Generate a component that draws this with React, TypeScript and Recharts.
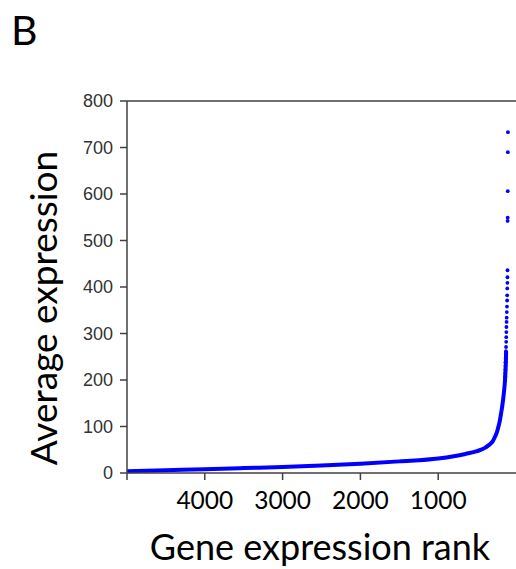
import React from 'react';
import { ComposedChart, Line, Scatter, XAxis, YAxis, ReferenceLine } from 'recharts';

// Tick labels
const rankTicks = [5000, 4000, 3000, 2000, 1000];
const expressionTicks = [0, 100, 200, 300, 400, 500, 600, 700, 800];

// Bulk of the ranked genes (dense, drawn as a thick band)
const bulkRanks = [5000, 4500, 4000, 3500, 3000, 2500, 2000, 1500, 1000, 800, 650, 500, 400, 350, 300, 270, 245, 227, 205, 190, 175, 162, 150, 141, 135, 130, 127];
const bulkValues = [4, 6, 8, 10.5, 13, 16, 20, 25, 31, 36, 41, 47, 54, 60, 68, 78, 88, 99, 115, 130, 146, 163, 182, 200, 220, 240, 262];

// Highest expressed genes (separate dots)
const topRanks = [104, 105, 106, 107, 108, 109, 110, 111, 112, 113, 114, 116, 118, 120, 121, 123, 124, 125, 126, 128, 129, 131, 132, 134, 135, 136, 138, 139, 141];
const topValues = [733, 690, 606, 549, 542, 436, 421, 409, 397, 382, 371, 358, 346, 334, 325, 314, 303, 292, 282, 271, 262, 254, 246, 238, 230, 222, 215, 208, 200];

const bulkData = bulkRanks.map((r, i) => ({ rank: r, value: bulkValues[i] }));
const topData = topRanks.map((r, i) => ({ rank: r, value: topValues[i] }));

const BLUE = '#0000FF';
const AXIS = '#404040';

const Dot = (props: any) => {
  const { cx, cy } = props;
  if (cx == null || cy == null) return null;
  return <circle cx={cx} cy={cy} r={1.9} fill={BLUE} />;
};

export default function App() {
  return (
    <div style={{ position: 'absolute', left: 0, top: 0, width: 516, height: 569, background: '#fff' }}>
      <ComposedChart width={516} height={569} margin={{ top: 101, right: 0, bottom: 36, left: 0 }}>
        <XAxis
          dataKey="rank"
          type="number"
          domain={[0, 5000]}
          reversed
          ticks={rankTicks}
          tickFormatter={(v: number) => (v === 5000 ? '' : String(v))}
          allowDataOverflow
          height={60}
          tickSize={7}
          tickMargin={12}
          axisLine={{ stroke: AXIS, strokeWidth: 1.5 }}
          tickLine={{ stroke: AXIS, strokeWidth: 1.5 }}
          tick={{ fill: '#000', fontSize: 24.5, fontFamily: 'Lato' }}
        />
        <YAxis
          type="number"
          domain={[0, 800]}
          ticks={expressionTicks}
          width={127}
          tickSize={7}
          tickMargin={7}
          axisLine={{ stroke: AXIS, strokeWidth: 1.5 }}
          tickLine={{ stroke: AXIS, strokeWidth: 1.5 }}
          tick={{ fill: '#333', fontSize: 18, fontFamily: '"Liberation Sans", Arial, sans-serif' }}
        />
        <ReferenceLine y={800} stroke={AXIS} strokeWidth={1.5} />
        <Line
          data={bulkData}
          dataKey="value"
          type="monotone"
          stroke={BLUE}
          strokeWidth={4}
          dot={false}
          activeDot={false}
          isAnimationActive={false}
        />
        <Scatter data={topData} dataKey="value" fill={BLUE} shape={Dot} isAnimationActive={false} />
      </ComposedChart>
      <svg width={516} height={569} style={{ position: 'absolute', left: 0, top: 0, pointerEvents: 'none' }}>
        <text x={11} y={45} fontSize={41} fontFamily="Lato" fill="#000">B</text>
        <text x={57} y={308} fontSize={37} fontFamily="Lato" fill="#000" textAnchor="middle" transform="rotate(-90 57 308)">Average expression</text>
        <text x={320} y={560} fontSize={36} fontFamily="Lato" fill="#000" textAnchor="middle">Gene expression rank</text>
      </svg>
    </div>
  );
}
